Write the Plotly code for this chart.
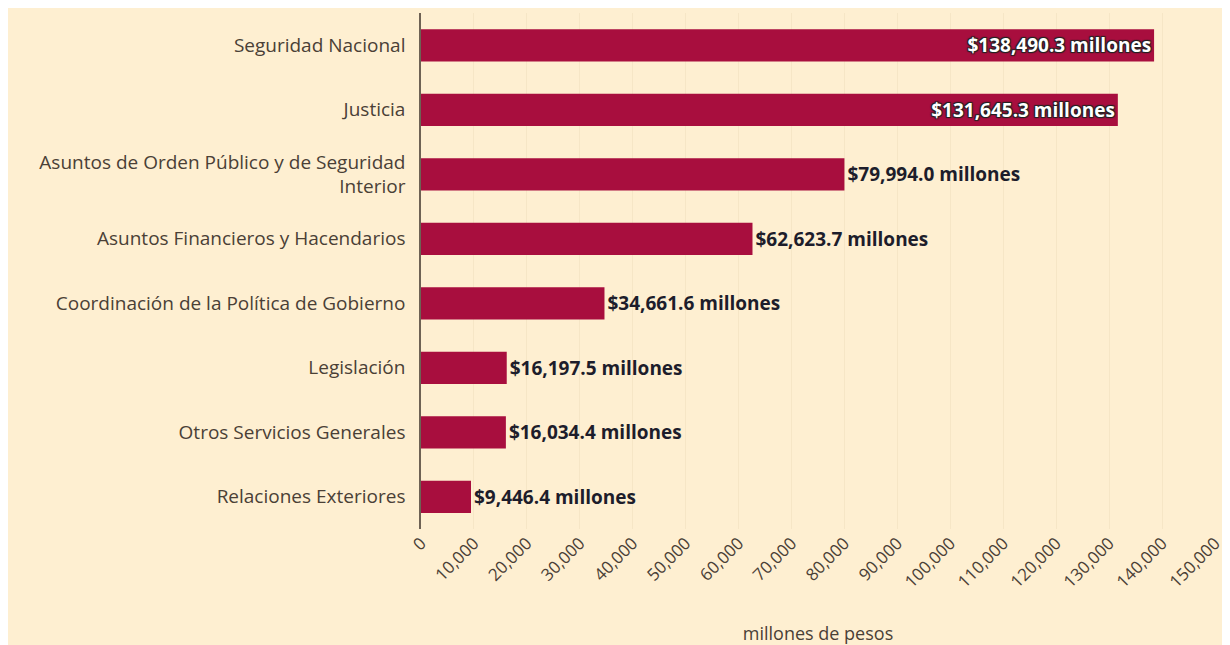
import plotly.graph_objects as go

# 범주 / 값 (위에서 아래 순서)
categorias = [
    "Seguridad Nacional",
    "Justicia",
    "Asuntos de Orden Público y de Seguridad<br>Interior",
    "Asuntos Financieros y Hacendarios",
    "Coordinación de la Política de Gobierno",
    "Legislación",
    "Otros Servicios Generales",
    "Relaciones Exteriores",
]
montos = [138490.3, 131645.3, 79994.0, 62623.7, 34661.6, 16197.5, 16034.4, 9446.4]
etiquetas = ["$" + f"{v:,.1f}" + " millones" for v in montos]
ticks_x = list(range(0, 150001, 10000))

CREMA = "#FEEFD1"
GUINDA = "#A80E3E"
TEXTO = "#4a4036"

posiciones = ["inside" if v > 100000 else "outside" for v in montos]

fig = go.Figure()

fig.add_trace(
    go.Bar(
        x=montos,
        y=categorias,
        orientation="h",
        marker=dict(color=GUINDA, line=dict(width=0)),
        text=etiquetas,
        textposition=posiciones,
        insidetextanchor="end",
        insidetextfont=dict(family="Open Sans", size=19, color="white", weight="bold",
                            shadow="1px 1px 1px #222, -1px -1px 1px #222, 1px -1px 1px #222, -1px 1px 1px #222"),
        outsidetextfont=dict(family="Open Sans", size=19, color="#1d1d2b", weight="bold"),
        cliponaxis=False,
        showlegend=False,
    )
)

# 페이지 기본 여백(8px) 때문에 그림은 (8,8)에서 시작
fig.update_layout(
    width=1222,
    height=637,
    margin=dict(l=413, r=15, t=5, b=116),
    paper_bgcolor=CREMA,
    plot_bgcolor=CREMA,
    bargap=0.5,
    font=dict(family="Open Sans", color=TEXTO),
    xaxis=dict(
        range=[0, 150000],
        tickvals=ticks_x,
        tickformat=",",
        tickangle=-45,
        tickfont=dict(size=17, color=TEXTO),
        showgrid=True,
        gridcolor="#F6E6C6",
        gridwidth=1,
        zeroline=False,
        showline=False,
        automargin=False,
        title=dict(text="millones de pesos", font=dict(size=18, color=TEXTO), standoff=35),
    ),
    yaxis=dict(
        autorange="reversed",
        showline=True,
        linecolor="#6e6254",
        linewidth=1.5,
        showgrid=False,
        automargin=False,
        tickfont=dict(size=19, color=TEXTO),
        ticklabelstandoff=10,
    ),
)

fig.write_html("out.html")
